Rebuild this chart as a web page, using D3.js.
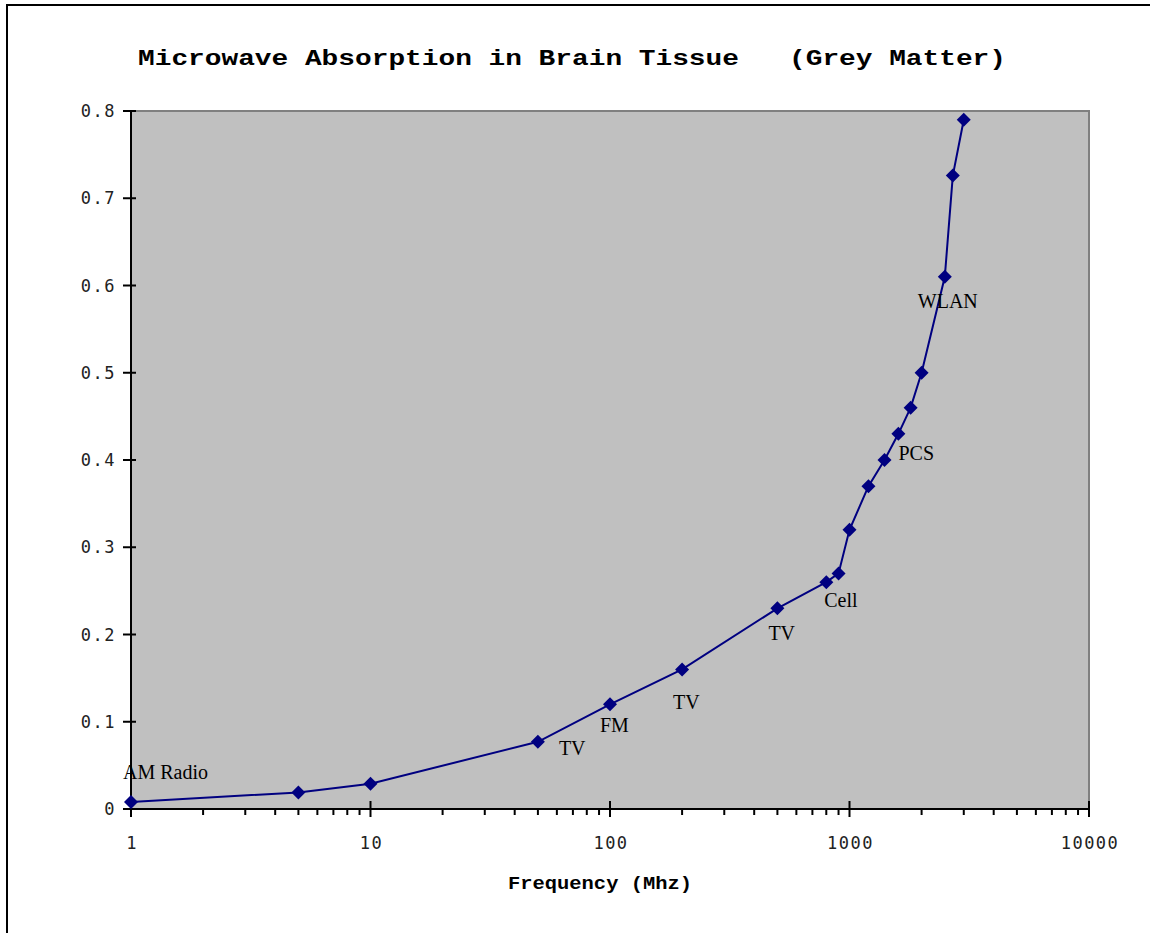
<!DOCTYPE html>
<html>
<head>
<meta charset="utf-8">
<script src="https://cdn.jsdelivr.net/npm/d3@7"></script>
<style>
  body { margin: 0; background: #fff; }
  svg { display: block; }
</style>
</head>
<body>
<script>
// data
var freqs  = [1, 5, 10, 50, 100, 200, 500, 800, 900, 1000, 1200, 1400, 1600, 1800, 2000, 2500, 2700, 3000];
var values = [0.008, 0.019, 0.029, 0.077, 0.12, 0.16, 0.23, 0.26, 0.27, 0.32, 0.37, 0.40, 0.43, 0.46, 0.50, 0.61, 0.726, 0.79];
var labelTexts  = ["AM Radio", "TV", "FM", "TV", "TV", "Cell", "PCS", "WLAN"];
var labelPoints = [0, 3, 4, 5, 6, 7, 11, 15];
var xTickValues = [1, 10, 100, 1000, 10000];
var yTickValues = [0, 0.1, 0.2, 0.3, 0.4, 0.5, 0.6, 0.7, 0.8];

var width = 1150, height = 933;
var margin = {top: 111, right: 61, bottom: 124, left: 131};

// label offsets from their point (layout)
var labelOffsets = [[-8, -23], [21, 13], [-10, 28], [-9, 40], [-9, 32], [-2, 25], [14, 0], [-27, 31]];

var svg = d3.select("body").append("svg")
    .attr("width", width)
    .attr("height", height);

// outer frame
svg.append("rect")
    .attr("x", 7).attr("y", 5)
    .attr("width", 1300).attr("height", 1100)
    .attr("fill", "none")
    .attr("stroke", "#000")
    .attr("stroke-width", 2);

var x = d3.scaleLog()
    .domain([1, 10000])
    .range([margin.left, width - margin.right]);

var y = d3.scaleLinear()
    .domain([0, 0.8])
    .range([height - margin.bottom, margin.top]);

// plot area
svg.append("rect")
    .attr("x", x(1)).attr("y", y(0.8))
    .attr("width", x(10000) - x(1))
    .attr("height", y(0) - y(0.8))
    .attr("fill", "#c0c0c0")
    .attr("stroke", "#808080")
    .attr("stroke-width", 2);

//title
svg.append("text")
    .attr("x", 138)
    .attr("y", 65)
    .attr("font-family", "'Liberation Mono', 'Courier New', monospace")
    .attr("font-weight", "bold")
    .attr("font-size", 22)
    .attr("textLength", 868)
    .attr("lengthAdjust", "spacingAndGlyphs")
    .attr("fill", "#000")
    .attr("xml:space", "preserve")
    .style("white-space", "pre")
    .text("Microwave Absorption in Brain Tissue   (Grey Matter)");

// minor x ticks
var minor = [];
for (var d = 1; d < 10000; d *= 10) {
  for (var k = 2; k < 10; k++) minor.push(d * k);
}
svg.append("g")
  .selectAll("line")
  .data(minor)
  .join("line")
    .attr("x1", d => x(d)).attr("x2", d => x(d))
    .attr("y1", y(0)).attr("y2", y(0) + 6)
    .attr("stroke", "#000")
    .attr("stroke-width", 2);

// major x ticks
svg.append("g")
  .selectAll("line")
  .data(xTickValues)
  .join("line")
    .attr("x1", d => x(d)).attr("x2", d => x(d))
    .attr("y1", y(0) - 8).attr("y2", y(0) + 8)
    .attr("stroke", "#000")
    .attr("stroke-width", 2);

// y ticks
svg.append("g")
  .selectAll("line")
  .data(yTickValues)
  .join("line")
    .attr("x1", x(1) - 8).attr("x2", x(1) + 5)
    .attr("y1", d => y(d)).attr("y2", d => y(d))
    .attr("stroke", "#000")
    .attr("stroke-width", 2);

// axis lines
svg.append("line")
    .attr("x1", x(1)).attr("x2", x(10000))
    .attr("y1", y(0)).attr("y2", y(0))
    .attr("stroke", "#000").attr("stroke-width", 2);
svg.append("line")
    .attr("x1", x(1)).attr("x2", x(1))
    .attr("y1", y(0)).attr("y2", y(0.8))
    .attr("stroke", "#000").attr("stroke-width", 2);

// tick labels
svg.append("g")
  .selectAll("text")
  .data(xTickValues)
  .join("text")
    .attr("x", d => x(d) + 1)
    .attr("y", y(0) + 40)
    .attr("text-anchor", "middle")
    .attr("font-family", "'DejaVu Sans Mono', monospace")
    .attr("font-size", 17)
    .attr("letter-spacing", "1.5px")
    .attr("fill", "#222")
    .text(d => d);

svg.append("g")
  .selectAll("text")
  .data(yTickValues)
  .join("text")
    .attr("x", 116)
    .attr("y", d => y(d))
    .attr("dy", "0.36em")
    .attr("text-anchor", "end")
    .attr("font-family", "'DejaVu Sans Mono', monospace")
    .attr("font-size", 17)
    .attr("letter-spacing", "1.5px")
    .attr("fill", "#222")
    .text(d => d === 0 ? "0" : d.toFixed(1));

//label for x-axis
svg.append("text")
    .attr("x", 508)
    .attr("y", 889)
    .attr("font-family", "'Liberation Mono', 'Courier New', monospace")
    .attr("font-weight", "bold")
    .attr("font-size", 18)
    .attr("textLength", 184)
    .attr("lengthAdjust", "spacingAndGlyphs")
    .attr("fill", "#000")
    .text("Frequency (Mhz)");

// series
var line = d3.line()
    .x((d, i) => x(freqs[i]))
    .y(d => y(d));

svg.append("path")
    .datum(values)
    .attr("d", line)
    .attr("fill", "none")
    .attr("stroke", "#000080")
    .attr("stroke-width", 2);

svg.append("g")
  .selectAll("path")
  .data(values)
  .join("path")
    .attr("transform", (d, i) => `translate(${x(freqs[i])},${y(d)})`)
    .attr("d", "M0,-7L7,0L0,7L-7,0Z")
    .attr("fill", "#000080");

// point labels
svg.append("g")
  .selectAll("text")
  .data(labelTexts)
  .join("text")
    .attr("x", (d, i) => x(freqs[labelPoints[i]]) + labelOffsets[i][0])
    .attr("y", (d, i) => y(values[labelPoints[i]]) + labelOffsets[i][1])
    .attr("font-family", "'Liberation Serif', 'Times New Roman', serif")
    .attr("font-size", 20)
    .attr("fill", "#000")
    .text(d => d);
</script>
</body>
</html>
